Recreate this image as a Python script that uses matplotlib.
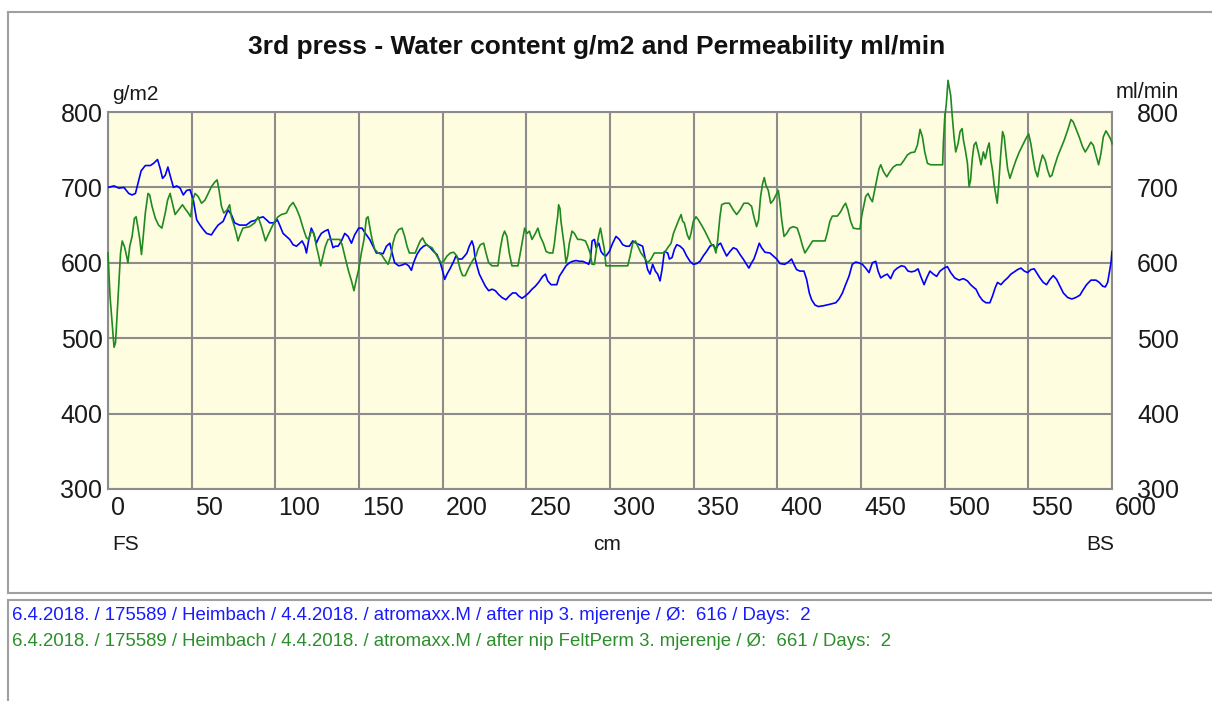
import matplotlib
matplotlib.use("Agg")
import matplotlib.pyplot as plt
from matplotlib.lines import Line2D
from matplotlib.transforms import ScaledTranslation

# ---- series: water content (g/m2) along the felt width (cm) ----
blue_cm = [
    0, 3.6, 6.5, 9.5, 12.4, 14.4, 16.4, 18.4, 19.8, 22.3, 25.3, 27.3, 29.6, 31.2, 32.6, 34.2, 35.8, 37.1, 39.1, 41.1,
    43.1, 45, 47, 49, 51, 53, 55, 57, 58.9, 61.8, 63.8, 65.8, 68.8, 71.7, 73.7, 75.7, 78.6, 82.6, 85.6,
    87.7, 89.7, 92.7, 94.7, 96.6, 99.2, 101.2, 102.6, 104.6, 106.6, 108.6, 110.6, 112.6, 114.6, 116, 117.6, 118.6, 120,
    121.5, 122.9, 124.5, 125.9, 127.5, 129.5, 131.5, 133.1, 134.5, 135.9, 137.5, 139.5, 141.5, 143.5, 145.5, 147.4,
    149.8, 151.8, 153.8, 156.4, 158.4, 160.4, 162.4, 164.4, 166.4, 168.4, 169.8, 171.3,
    173.7, 175.7, 177.7, 179.7, 181.3, 182.6, 184.6, 186.6, 188.6, 190.6, 192.6, 194.6, 196.6, 198.6, 200, 201.2,
    202.6, 204.6, 206.6, 207.9, 209.5, 211.5, 213.1, 214.5, 215.9, 217.5, 218.5, 219.5, 220.5, 221.9, 223.5, 225.5,
    227.5, 229.5, 231.5, 233.4, 235.4, 237.8, 239.8, 241.8, 243.8, 245.4, 247.4, 249.4, 251.4, 253.4, 255.4, 257.3,
    259.8, 261.4, 262.8, 264.8, 266.8, 268.2, 269.7, 271.7, 273.7, 275.7, 277.7, 279.7, 281.7, 283.7, 285.7, 287.3,
    288.3, 289.3, 290.7, 291.7, 293.3, 294.6, 296, 297.6, 299.6, 301.6, 303.6, 305.6, 307.6, 309.6, 311.6, 313.6,
    315.6, 317.6, 319.5, 321.1, 322.5, 323.9, 325.5, 327.1, 328.5, 329.9, 331.1, 332.5, 334.5, 335.5, 337.1, 338.5,
    339.9, 341.9, 343.8,
    345.8, 347.8, 349.8, 351.8, 353.8, 355.7, 357.7, 359.7, 361.7, 363.3, 364.7, 366.1, 367.7, 369.7, 371.7, 373.7,
    375.7, 377.7, 379.6, 381.6, 383, 384.6, 386, 387.6, 389.2, 390.6, 392.6, 395.6, 397.6, 399.6, 401.6, 404.5,
    406.5, 408.5, 409.9, 411.5, 413.5, 415.9, 417.5, 419.1, 420.5, 422.5, 424.5, 427.5, 431.4,
    434.9, 436.9, 438.9, 440.8, 442.8, 444.8, 446.8, 448.8, 450.8, 452.8, 454.8, 456.8, 458.8, 460.2, 461.8, 463.8,
    465.7, 467.7, 469.7, 471.7, 474.1, 476.1, 478.1, 480.1, 482.1, 484.1, 485.7, 487.7, 489.3, 491.2, 493.2, 495.2,
    497.2, 499.6, 501.6, 503.6, 506, 508.6, 511.2, 513.6, 515.5, 517.5,
    518.7, 520.7, 522.7, 524.7, 527, 528.6, 530.2, 531.6, 533.6, 535.6, 537.6, 539.6, 541.6, 543.6, 545.6, 547.6,
    549.6, 551.5, 553.5, 554.9, 556.9, 558.9, 560.9, 562.9, 564.9, 566.9, 568.9, 570.9, 573.5, 576, 578.4, 580.8,
    582.4, 584.8, 587.4, 590.4, 592.4, 594.4, 596, 597.4, 598.4, 599.4, 600,
]
blue_gm2 = [
    700, 702, 699, 700, 692, 690, 692, 710, 722, 729, 729, 732, 737, 725, 712, 716, 727, 716, 700, 702,
    699, 690, 696, 697, 683, 657, 650, 644, 639, 637, 644, 650, 655, 670, 664, 653, 650, 650, 655,
    656, 659, 661, 657, 653, 653, 657, 650, 639, 635, 631, 624, 622, 626, 629, 622, 613, 631,
    646, 639, 626, 633, 639, 642, 644, 631, 620, 622, 622, 629, 639, 635, 626, 637,
    646, 646, 639, 631, 622, 613, 613, 612, 622, 626, 613, 600,
    596, 597, 599, 596, 590, 600, 611, 618, 622, 624, 620, 615, 611, 600, 589, 578,
    585, 593, 602, 609, 605, 605, 609, 613, 622, 629, 622, 605, 596, 585, 578, 569,
    563, 565, 563, 558, 554, 551, 556, 560, 560, 556, 553, 556, 560, 565, 569, 574,
    582, 585, 576, 571, 571, 571, 582, 589, 596, 600, 602, 603, 602, 602, 600, 598,
    605, 629, 631, 620, 626, 615, 611, 609, 615, 626, 635, 631, 624, 622, 622, 629,
    626, 624, 622, 605, 591, 585, 598, 589, 585, 576, 591, 615, 613, 605, 607, 618,
    624, 622, 618,
    609, 602, 598, 599, 602, 609, 615, 622, 624, 618, 624, 626, 618, 609, 615, 620,
    618, 611, 605, 598, 593, 600, 605, 615, 626, 620, 614, 613, 609, 605, 599, 598,
    601, 605, 598, 591, 589, 589, 578, 560, 551, 544, 542, 543, 545,
    547, 552, 560, 571, 582, 598, 601, 600, 598, 593, 587, 600, 602, 589, 580, 583,
    585, 579, 589, 593, 596, 595, 589, 588, 589, 592, 582, 571, 580, 589, 585, 582,
    589, 593, 595, 587, 580, 577, 579, 576, 571, 567,
    565, 556, 550, 547, 547, 556, 567, 574, 571, 576, 580, 585, 588, 591, 593, 589,
    587, 591, 592, 587, 580, 574, 571, 578, 583, 578, 569, 560, 554, 552, 554, 557,
    563, 571, 577, 577, 574, 569, 568, 574, 587, 600, 615,
]

# ---- series: felt permeability (ml/min) along the felt width (cm) ----
green_cm = [
    0, 1.2, 2.6, 3.6, 4.5, 5.5, 6.5, 7.5, 8.5, 9.9, 11.1, 11.9, 13, 14.4, 15.8, 16.8, 17.8, 19, 20, 20.9,
    22.3, 23.9, 24.9, 26.3, 28.3, 30.2, 32.2, 34.2, 35.6, 37.1, 38.5, 40.1, 42.1, 44.5, 46, 48, 49.4, 50.6, 52, 53.9,
    55.9, 57.9, 59.9, 61.8, 63.8, 65.2, 66.4, 67.8, 69.2, 71.1, 72.7, 73.7, 75.3, 76.7, 77.7, 78.6, 80.6, 84.6,
    87.7, 89.7, 91.7, 94.1, 95.7, 97.6, 99.6, 101.6, 103.6, 106.6, 108.6, 110.6, 112.6, 114.6, 116.6, 118.6, 120,
    121.5, 123.1, 124.5, 125.9, 127.1, 128.5, 129.9, 131.5, 133.5, 135.9, 138.5, 139.9, 141.5, 143.5, 145.5, 147,
    148.4, 149.8, 151.4, 153, 154.4, 155.4, 156.4, 157.8, 159.4, 161.4, 163.4, 165.4, 167.4, 169, 170.3,
    171.7, 173.7, 175.7, 177.3, 178.7, 180.1, 181.7, 183.6, 185.2, 186.6, 188, 189.6, 191.6, 193.6, 195.6, 197.6,
    199.2, 200.6, 202.6, 204.6, 206.6, 208.5, 209.5, 210.5, 211.9, 213.5, 215.1, 217.1, 218.5, 219.9, 221.1, 222.5,
    224.5, 225.9, 227.5, 229.5, 231.5, 233, 234.4, 235.8, 237, 238.4, 239.8, 241.4, 243.4, 245, 246.4, 247.8, 249,
    250.4, 251.8, 253.4, 255.4, 256.9, 258.3,
    260.2, 261.8, 263.8, 265.8, 266.8, 267.8, 268.7, 269.3, 270.1, 270.7, 271.7, 272.7, 273.7, 274.7, 275.7, 277.3,
    278.7, 280.7, 282.7, 285.3, 286.7, 288.1, 289.3, 290.7, 292.1, 293.3, 294.3, 295.2, 296.6, 297.6, 310.6, 312,
    313.6, 315.2, 316.6, 318.5, 320.5, 322.5, 324.5, 326.5, 332.5, 334.5, 336.5, 337.9, 339.5, 341.1, 342.5, 343.4,
    344.4,
    346.2, 347.4, 348.4, 349.8, 351.4, 352.8, 354.7, 356.7, 358.7, 360.7, 362.1, 363.3, 364.3, 365.7, 366.7, 368.7,
    371.3, 373.7, 375.7, 377.7, 380, 382.6, 384.6, 386, 387.6, 388.8, 390, 391.2, 392.2, 393.2, 394.6, 396, 397.6,
    399.2, 400.6, 401.6, 402.6, 404, 405.6, 407.5, 409.5, 411.9, 413.5, 415.1, 416.5, 418.5, 421.1, 424.5, 428.5,
    429.8, 431.4,
    432.9, 435.9, 437.9, 439.5, 440.8, 442.2, 443.8, 445.4, 447.8, 449.4, 450.4, 451.4, 452.8, 454.2, 455.4, 456.8,
    458.2, 459.4, 460.8, 461.8, 463.4, 465.4, 467.3, 469.3, 471.3, 473.7, 475.7, 477.7, 479.7, 482.1, 483.7, 485.3,
    486.7, 488.1, 489.7, 491.6, 498.8, 499.2, 500, 501, 502, 503, 503.6, 504.4, 505.6, 506.6, 508, 509.2, 510.4,
    511.2, 512.4, 513.6, 514.6, 515.5, 516.5, 517.5,
    518.7, 520.3, 521.7, 523.1, 524.3, 525.6, 526.6, 527.6, 528.6, 529.6, 530.6, 531.4, 532.2, 533.4, 534.6, 535.6,
    536.6, 537.6, 539, 540.6, 542.6, 544.6, 546.6, 548.6, 550.2, 551.5, 552.9, 554.1, 555.5, 556.9, 558.5, 560.1,
    561.5, 562.9, 564.1, 565.5, 567.5, 569.5, 571.5, 573.5, 575.5, 576.8, 578.4, 580.4, 582.4, 584, 585.4, 587.4,
    588.8, 590.4, 592, 593.4, 594.8, 596.4, 598, 599.4, 600,
]
green_mlmin = [
    613, 556, 517, 488, 494, 534, 574, 613, 629, 621, 609, 600, 622, 635, 659, 661, 648, 631, 611, 631,
    666, 692, 690, 675, 659, 650, 646, 666, 683, 692, 679, 664, 670, 677, 672, 666, 661, 683, 692, 688,
    679, 683, 692, 701, 707, 710, 696, 675, 666, 670, 677, 661, 650, 639, 629, 635, 646, 648,
    653, 661, 648, 629, 637, 646, 655, 661, 664, 666, 675, 680, 672, 661, 646, 633, 631,
    642, 639, 622, 609, 596, 609, 622, 631, 631, 631, 631, 624, 609, 591, 576, 563,
    578, 591, 613, 631, 659, 661, 648, 631, 618, 613, 611, 604, 598, 609, 626,
    637, 644, 646, 635, 622, 613, 613, 613, 622, 629, 633, 626, 622, 620, 613, 605,
    600, 602, 609, 613, 614, 609, 600, 591, 583, 583, 591, 600, 605, 609, 618, 624,
    626, 613, 600, 596, 596, 596, 618, 635, 642, 635, 613, 596, 596, 596, 613, 631, 646,
    639, 642, 631, 639, 646, 635,
    626, 615, 613, 613, 626, 646, 661, 677, 672, 655, 639, 622, 600, 609, 626, 642,
    639, 631, 631, 629, 622, 613, 598, 598, 622, 637, 646, 635, 618, 596, 596, 609,
    626, 629, 622, 613, 607, 600, 605, 613, 613, 620, 626, 639, 648, 657, 664, 655,
    653,
    637, 631, 639, 655, 661, 657, 650, 642, 633, 624, 622, 613, 629, 661, 677, 679,
    679, 670, 664, 670, 679, 679, 675, 661, 648, 657, 688, 705, 713, 703, 696, 679, 683,
    690, 696, 679, 657, 635, 639, 646, 648, 646, 635, 622, 613, 620, 629, 629, 629,
    639, 655,
    662, 662, 668, 675, 679, 670, 655, 646, 645, 645, 662, 673, 688, 692, 686, 681,
    697, 710, 725, 730, 721, 714, 721, 727, 730, 730, 736, 743, 746, 747, 756, 777,
    767, 747, 732, 730, 730, 758, 791, 811, 842, 829, 822, 798, 767, 747, 758, 774, 778,
    763, 749, 732, 701, 710, 738, 756,
    760, 745, 730, 747, 738, 752, 759, 736, 723, 703, 690, 679, 701, 741, 774, 767,
    745, 725, 712, 723, 736, 747, 756, 765, 771, 758, 738, 723, 714, 730, 743, 736,
    723, 714, 716, 727, 741, 752, 763, 776, 790, 787, 778, 767, 754, 747, 752, 760,
    756, 743, 730, 745, 767, 775, 769, 763, 758,
]

x_ticks = list(range(0, 601, 50))
y_ticks = list(range(300, 801, 100))
red_marks = [400, 500, 600, 700]

title = "3rd press - Water content g/m2 and Permeability ml/min"
legend_lines = [
    ("6.4.2018. / 175589 / Heimbach / 4.4.2018. / atromaxx.M / after nip 3. mjerenje / Ø:  616 / Days:  2", "#1a1aff"),
    ("6.4.2018. / 175589 / Heimbach / 4.4.2018. / atromaxx.M / after nip FeltPerm 3. mjerenje / Ø:  661 / Days:  2", "#2a8f2a"),
]

plt.rcParams["font.family"] = ["Liberation Sans", "DejaVu Sans"]

W, H = 1212, 701
fig = plt.figure(figsize=(W / 100, H / 100), dpi=100)
fig.patch.set_facecolor("white")


def fx(x):
    return x / W


def fy(y):
    return 1 - y / H


GRID = "#8c8c8c"
TXT = "#1a1a1a"

ax = fig.add_axes([fx(108), fy(489), (1112 - 108) / W, (489 - 112) / H])
ax.set_facecolor("#fffddf")
ax.set_xlim(0, 600)
ax.set_ylim(300, 800)
ax.set_xticks(x_ticks)
ax.set_yticks(y_ticks)
ax.grid(True, color=GRID, lw=1.5)
ax.set_axisbelow(True)
for sp in ax.spines.values():
    sp.set_color(GRID)
    sp.set_linewidth(1.5)
ax.tick_params(length=0, labelsize=18, labelcolor=TXT)
ax.tick_params(axis="y", pad=4)
ax.tick_params(axis="x", pad=5)
shift = ScaledTranslation(3 / 100, 0, fig.dpi_scale_trans)
for lbl in ax.get_xticklabels():
    lbl.set_horizontalalignment("left")
    lbl.set_transform(lbl.get_transform() + shift)

ax.plot(blue_cm, blue_gm2, color="#0000ff", lw=1.2, zorder=3)

ax2 = ax.twinx()
ax2.set_ylim(300, 800)
ax2.set_yticks(y_ticks)
ax2.set_yticks(red_marks, minor=True)
ax2.tick_params(axis="y", which="major", length=0, labelsize=18, labelcolor=TXT, pad=18)
ax2.tick_params(axis="y", which="minor", direction="in", length=14, width=1.6, color="#ff0000")
for sp in ax2.spines.values():
    sp.set_visible(False)
ax2.plot(green_cm, green_mlmin, color="#1f8a1f", lw=1.2, clip_on=False, zorder=3)

# titles and axis captions
fig.text(fx(597), fy(47), title, ha="center", va="center", fontsize=19, fontweight="bold", color="#111111")
fig.text(fx(112), fy(95), "g/m2", ha="left", va="center", fontsize=15, color=TXT)
fig.text(fx(1116), fy(92), "ml/min", ha="left", va="center", fontsize=15.5, color=TXT)
fig.text(fx(112), fy(545), "FS", ha="left", va="center", fontsize=15, color=TXT)
fig.text(fx(607), fy(545), "cm", ha="center", va="center", fontsize=15, color=TXT)
fig.text(fx(1114), fy(545), "BS", ha="right", va="center", fontsize=15, color=TXT)

# panel frames
FRAME = "#a0a0a0"
for (x0, y0, x1, y1) in [(8, 12, W, 12), (8, 12, 8, 593), (8, 593, W, 593),
                         (8, 600, W, 600), (8, 600, 8, H)]:
    fig.add_artist(Line2D([fx(x0), fx(x1)], [fy(y0), fy(y1)], transform=fig.transFigure,
                          color=FRAME, lw=1.5))

# series descriptions
for i, (txt, col) in enumerate(legend_lines):
    fig.text(fx(12), fy(615 + 26 * i), txt, ha="left", va="center", fontsize=13.4, color=col)

fig.savefig("out.png", dpi=100)
